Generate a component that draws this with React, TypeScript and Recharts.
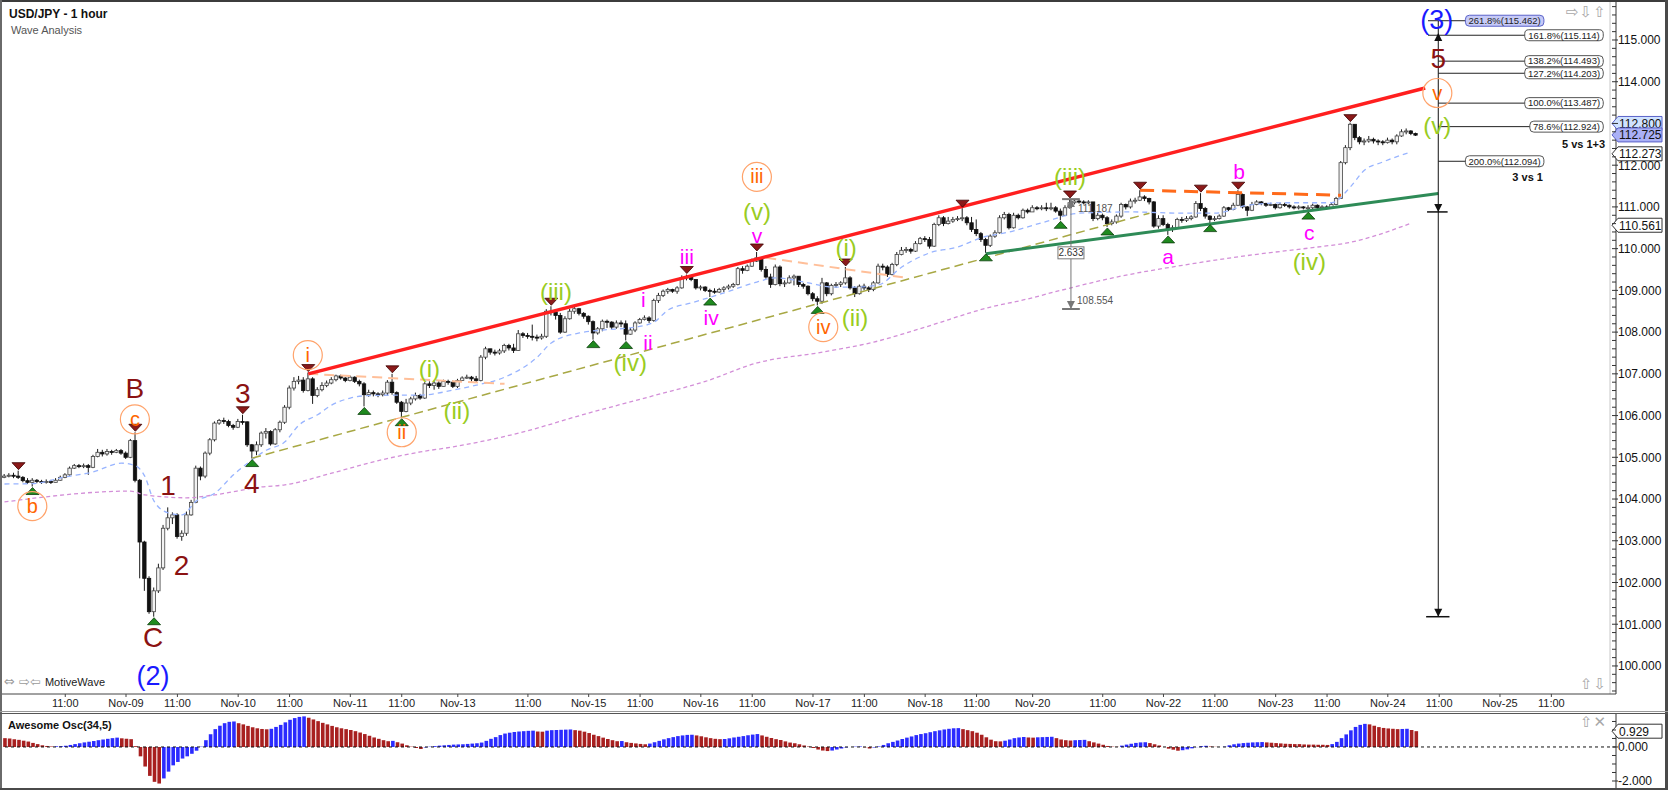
import React from "react";
import { ComposedChart, Bar, Line, XAxis, YAxis, ReferenceLine, ReferenceDot, Cell } from "recharts";

const FONT = "'Liberation Sans', Arial, sans-serif";

// hourly USD/JPY bars, open = previous close
const firstOpen = 104.52;
const closes = [
  104.55, 104.57, 104.55, 104.52, 104.44, 104.4, 104.45, 104.42, 104.4, 104.42,
  104.4, 104.45, 104.52, 104.58, 104.74, 104.8, 104.78, 104.8, 104.76, 105.02,
  105.12, 105.08, 105.14, 105.12, 105.16, 105.1, 105.0, 105.4, 104.45, 102.97,
  102.1, 101.3, 101.8, 102.35, 103.3, 103.55, 103.62, 103.1, 103.18, 103.62,
  103.92, 104.74, 104.55, 105.1, 105.42, 105.82, 105.88, 105.86, 105.76, 105.72,
  105.86, 105.85, 105.3, 105.15, 105.3, 105.58, 105.62, 105.32, 105.66, 105.84,
  106.2, 106.66, 106.82, 106.85, 106.6, 106.88, 106.48, 106.62, 106.72, 106.78,
  106.86, 106.95, 106.9, 106.84, 106.92, 106.82, 106.76, 106.5, 106.55, 106.52,
  106.5, 106.54, 106.8, 106.55, 106.32, 106.1, 106.3, 106.4, 106.48, 106.42,
  106.76, 106.72, 106.78, 106.7, 106.82, 106.8, 106.7, 106.84, 106.9, 106.92,
  106.88, 106.84, 107.4, 107.6, 107.52, 107.5, 107.55, 107.68, 107.62, 107.56,
  107.96, 107.92, 107.9, 107.88, 107.86, 107.9, 108.5, 108.48, 108.4, 108.0,
  108.32, 108.5, 108.56, 108.45, 108.38, 108.25, 107.98, 108.08, 108.26, 108.24,
  108.12, 108.22, 108.2, 107.95, 108.05, 108.22, 108.3, 108.34, 108.28, 108.76,
  108.88, 108.98, 109.02, 108.98, 109.06, 109.3, 109.32, 109.26, 109.06, 109.08,
  109.0, 108.98, 108.96, 109.02, 109.06, 109.1, 109.14, 109.52, 109.48, 109.58,
  109.7, 109.78, 109.5, 109.32, 109.14, 109.56, 109.16, 109.18, 109.3, 109.34,
  109.14, 109.1, 108.92, 108.8, 108.74, 109.18, 108.92, 109.12, 109.14, 109.18,
  109.3, 109.06, 108.92, 109.1, 109.06, 109.02, 109.18, 109.58, 109.56, 109.38,
  109.62, 109.86, 109.96, 109.98, 109.94, 110.12, 110.24, 110.22, 110.06, 110.58,
  110.74, 110.6, 110.66, 110.7, 110.72, 110.74, 110.62, 110.46, 110.36, 110.22,
  110.08, 110.3, 110.38, 110.74, 110.82, 110.5, 110.8, 110.74, 110.92, 110.88,
  110.98, 110.96, 110.98, 110.96, 110.98, 110.9, 110.8, 110.98, 111.1, 111.14,
  111.12, 111.1, 111.12, 110.72, 110.8, 110.74, 110.6, 110.64, 110.78, 111.06,
  111.0, 111.14, 111.16, 111.24, 111.2, 111.12, 110.54, 110.72, 110.58, 110.46,
  110.5, 110.7, 110.68, 110.72, 110.76, 111.08, 110.96, 110.78, 110.7, 110.72,
  110.78, 110.98, 110.94, 111.04, 111.3, 111.0, 110.92, 111.06, 111.12, 111.08,
  111.04, 111.06, 110.98, 111.06, 111.04, 111.0, 110.98, 111.0, 110.98, 110.98,
  111.04, 110.98, 111.0, 110.98, 111.06, 111.2, 112.06, 112.42, 112.98, 112.66,
  112.56, 112.58, 112.62, 112.58, 112.56, 112.54, 112.6, 112.56, 112.7, 112.8,
  112.82, 112.76, 112.72,
];
const highs = [
  104.6, 104.62, 104.63, 104.68, 104.55, 104.5, 104.5, 104.48, 104.46, 104.47,
  104.46, 104.5, 104.56, 104.62, 104.78, 104.84, 104.84, 104.85, 104.84, 105.06,
  105.2, 105.18, 105.2, 105.18, 105.2, 105.2, 105.14, 105.44, 105.6, 104.48,
  103.0, 102.15, 101.88, 102.45, 103.38, 103.8, 103.68, 103.66, 103.25, 103.7,
  103.98, 104.8, 104.78, 105.14, 105.46, 105.86, 105.92, 105.95, 105.9, 105.8,
  105.92, 106.02, 105.86, 105.32, 105.38, 105.62, 105.7, 105.65, 105.7, 105.88,
  106.25, 106.72, 106.92, 106.95, 106.92, 107.03, 106.92, 106.68, 106.8, 106.84,
  106.92, 106.98, 106.98, 106.92, 106.96, 106.94, 106.86, 106.8, 106.62, 106.6,
  106.56, 106.6, 106.85, 107.0, 106.58, 106.35, 106.4, 106.45, 106.55, 106.52,
  106.8, 106.82, 106.84, 106.82, 106.86, 106.86, 106.84, 106.88, 106.94, 106.98,
  106.95, 106.95, 107.45, 107.65, 107.6, 107.58, 107.6, 107.72, 107.72, 107.72,
  108.05, 108.0, 107.98, 108.18, 107.94, 107.96, 108.55, 108.62, 108.55, 108.46,
  108.38, 108.56, 108.62, 108.58, 108.48, 108.4, 108.28, 108.12, 108.3, 108.3,
  108.26, 108.28, 108.28, 108.28, 108.1, 108.26, 108.34, 108.4, 108.38, 108.8,
  108.94, 109.02, 109.06, 109.04, 109.1, 109.36, 109.38, 109.34, 109.22, 109.12,
  109.1, 109.04, 109.05, 109.06, 109.1, 109.14, 109.18, 109.56, 109.58, 109.62,
  109.76, 109.92, 109.8, 109.58, 109.4, 109.62, 109.6, 109.24, 109.36, 109.38,
  109.34, 109.18, 109.12, 108.96, 108.86, 109.3, 109.2, 109.16, 109.2, 109.22,
  109.56, 109.34, 109.1, 109.14, 109.16, 109.1, 109.22, 109.64, 109.64, 109.6,
  109.66, 109.92, 110.04, 110.04, 110.02, 110.18, 110.28, 110.3, 110.28, 110.62,
  110.8, 110.78, 110.76, 110.76, 110.78, 110.97, 110.78, 110.76, 110.7, 110.4,
  110.26, 110.34, 110.44, 110.8, 110.88, 110.86, 110.86, 110.84, 110.96, 110.96,
  111.04, 111.02, 111.04, 111.1, 111.1, 111.02, 110.96, 111.04, 111.19, 111.18,
  111.18, 111.16, 111.16, 110.9, 110.86, 110.84, 110.78, 110.7, 110.82, 111.1,
  111.08, 111.2, 111.22, 111.4, 111.28, 111.22, 111.14, 110.8, 110.8, 110.62,
  110.56, 110.74, 110.76, 110.78, 110.8, 111.14, 111.33, 111.0, 110.8, 110.78,
  110.82, 111.02, 111.0, 111.1, 111.4, 111.32, 111.02, 111.12, 111.16, 111.14,
  111.1, 111.1, 111.08, 111.1, 111.1, 111.06, 111.04, 111.04, 111.02, 111.04,
  111.08, 111.06, 111.04, 111.04, 111.1, 111.24, 112.1, 112.48, 113.02, 112.98,
  112.7, 112.64, 112.7, 112.66, 112.62, 112.6, 112.66, 112.64, 112.74, 112.86,
  112.88, 112.84, 112.78,
];
const lows = [
  104.5, 104.52, 104.5, 104.48, 104.4, 104.36, 104.3, 104.38, 104.36, 104.37,
  104.36, 104.4, 104.44, 104.5, 104.56, 104.72, 104.74, 104.74, 104.58, 104.74,
  105.0, 105.02, 105.04, 105.06, 105.1, 105.06, 104.96, 104.98, 104.4, 102.1,
  101.8, 101.25, 101.18, 101.75, 102.3, 103.25, 103.4, 103.05, 103.0, 103.12,
  103.6, 103.9, 104.45, 104.5, 105.05, 105.38, 105.78, 105.8, 105.72, 105.66,
  105.7, 105.78, 105.25, 104.97, 105.05, 105.25, 105.45, 105.28, 105.3, 105.6,
  105.8, 106.15, 106.6, 106.75, 106.55, 106.58, 106.28, 106.44, 106.58, 106.68,
  106.75, 106.82, 106.86, 106.8, 106.82, 106.78, 106.7, 106.22, 106.45, 106.46,
  106.44, 106.46, 106.48, 106.5, 106.28, 105.95, 106.08, 106.25, 106.36, 106.38,
  106.4, 106.66, 106.62, 106.64, 106.7, 106.74, 106.66, 106.66, 106.84, 106.88,
  106.82, 106.8, 106.82, 107.35, 107.46, 107.44, 107.46, 107.5, 107.56, 107.5,
  107.55, 107.86, 107.84, 107.8, 107.78, 107.82, 107.86, 108.4, 108.3, 107.96,
  107.98, 108.3, 108.44, 108.4, 108.32, 108.18, 107.82, 107.94, 108.02, 108.1,
  108.06, 108.08, 108.12, 107.8, 107.94, 108.0, 108.2, 108.28, 108.22, 108.25,
  108.7, 108.84, 108.92, 108.94, 108.92, 109.04, 109.24, 109.22, 109.02, 109.0,
  108.96, 108.84, 108.92, 108.94, 108.96, 109.02, 109.06, 109.12, 109.4, 109.46,
  109.56, 109.68, 109.45, 109.28, 109.06, 109.12, 109.1, 109.08, 109.16, 109.12,
  109.08, 109.04, 108.88, 108.74, 108.64, 108.68, 108.86, 108.88, 109.06, 109.08,
  109.14, 109.02, 108.84, 108.9, 109.0, 108.96, 108.98, 109.16, 109.48, 109.32,
  109.36, 109.58, 109.84, 109.9, 109.88, 109.92, 110.1, 110.16, 110.0, 110.04,
  110.54, 110.54, 110.58, 110.62, 110.66, 110.66, 110.56, 110.4, 110.3, 110.16,
  109.9, 110.04, 110.26, 110.36, 110.7, 110.46, 110.48, 110.7, 110.72, 110.84,
  110.9, 110.92, 110.92, 110.9, 110.92, 110.86, 110.68, 110.78, 110.96, 111.06,
  111.08, 111.06, 111.06, 110.66, 110.68, 110.68, 110.52, 110.56, 110.6, 110.74,
  110.94, 110.96, 111.08, 111.14, 111.14, 111.06, 110.5, 110.48, 110.54, 110.33,
  110.4, 110.48, 110.62, 110.64, 110.68, 110.74, 110.9, 110.72, 110.6, 110.66,
  110.7, 110.76, 110.9, 110.92, 111.02, 110.96, 110.78, 110.9, 111.04, 111.04,
  111.0, 111.02, 110.94, 110.96, 111.0, 110.96, 110.94, 110.94, 110.94, 110.9,
  110.94, 110.94, 110.94, 110.94, 110.96, 111.04, 111.2, 112.02, 112.36, 112.6,
  112.5, 112.48, 112.54, 112.52, 112.48, 112.48, 112.52, 112.5, 112.5, 112.68,
  112.74, 112.72, 112.7,
];

// Awesome Oscillator (34,5)
const aoValues = [
  0.52, 0.5, 0.46, 0.42, 0.37, 0.32, 0.24, 0.17, 0.1, 0.06,
  0.03, 0.04, 0.05, 0.07, 0.12, 0.17, 0.22, 0.27, 0.31, 0.35,
  0.4, 0.44, 0.48, 0.52, 0.55, 0.51, 0.49, 0.46, 0.05, -0.55,
  -1.15, -1.7, -2.05, -2.15, -1.85, -1.45, -1.08, -0.88, -0.68, -0.55,
  -0.4, -0.22, 0.02, 0.4, 0.75, 1.05, 1.25, 1.4, 1.48, 1.5,
  1.4, 1.33, 1.24, 1.16, 1.1, 1.06, 1.04, 1.07, 1.18, 1.3,
  1.45, 1.6, 1.7, 1.77, 1.8, 1.72, 1.62, 1.52, 1.42, 1.33,
  1.24, 1.16, 1.1, 1.05, 1.0, 0.93, 0.85, 0.76, 0.66, 0.56,
  0.48, 0.4, 0.34, 0.36, 0.28, 0.2, 0.1, 0.02, -0.06, -0.12,
  -0.03, 0.02, 0.05, 0.08, 0.1, 0.12, 0.14, 0.15, 0.16, 0.18,
  0.2, 0.22, 0.26, 0.36, 0.48, 0.58, 0.7, 0.79, 0.84, 0.88,
  0.91, 0.93, 0.95, 0.96, 0.91, 0.9, 0.96, 0.99, 1.0, 1.01,
  1.02, 1.03, 0.99, 0.96, 0.9, 0.82, 0.72, 0.64, 0.55, 0.47,
  0.4, 0.34, 0.35, 0.28, 0.24, 0.21, 0.18, 0.16, 0.2, 0.28,
  0.36, 0.45, 0.52, 0.58, 0.64, 0.68, 0.71, 0.72, 0.68, 0.63,
  0.57, 0.52, 0.48, 0.46, 0.47, 0.51, 0.56, 0.6, 0.64, 0.69,
  0.73, 0.76, 0.68, 0.6, 0.53, 0.46, 0.41, 0.33, 0.26, 0.22,
  0.16, 0.09, 0.03, -0.06, -0.15, -0.21, -0.24, -0.21, -0.15, -0.09,
  -0.03, 0.0, 0.02, 0.03, -0.02, -0.09, -0.03, 0.03, 0.12, 0.22,
  0.3, 0.38, 0.47, 0.55, 0.62, 0.7, 0.76, 0.81, 0.87, 0.93,
  0.98, 1.03, 1.07, 1.1, 1.11, 1.05, 0.99, 0.93, 0.84, 0.72,
  0.57, 0.43, 0.34, 0.33, 0.37, 0.44, 0.52, 0.56, 0.58, 0.56,
  0.55, 0.57, 0.58, 0.59, 0.6, 0.52, 0.44, 0.4, 0.38, 0.4,
  0.41, 0.42, 0.34, 0.27, 0.2, 0.13, 0.06, 0.02, 0.01, 0.08,
  0.14, 0.19, 0.24, 0.27, 0.28, 0.23, 0.16, 0.09, 0.0, -0.1,
  -0.16, -0.22, -0.19, -0.14, -0.08, -0.01, 0.05, 0.07, 0.03, 0.01,
  0.0, 0.02, 0.1, 0.16, 0.2, 0.23, 0.25, 0.27, 0.28, 0.29,
  0.27, 0.25, 0.23, 0.21, 0.19, 0.18, 0.17, 0.17, 0.15, 0.14,
  0.14, 0.13, 0.13, 0.12, 0.17, 0.3, 0.52, 0.74, 0.98, 1.18,
  1.3, 1.36, 1.33, 1.25, 1.17, 1.12, 1.09, 1.07, 1.05, 1.06,
  1.07, 1.0, 0.93,
];

// moving averages read at sample bars: [bar, value]
const fastMa: [number, number][] = [
  [0, 104.36], [6, 104.37], [13, 104.53], [19, 104.65], [25, 104.86], [28, 104.8], [30, 104.55],
  [32, 103.95], [35, 103.67], [38, 103.62], [41, 103.95], [45, 104.14], [49, 104.58], [53, 104.94],
  [56, 105.17], [60, 105.37], [63, 105.77], [67, 106.02], [70, 106.25], [74, 106.42], [78, 106.48],
  [85, 106.49], [89, 106.49], [96, 106.61], [101, 106.73], [107, 106.92], [114, 107.4], [117, 107.74],
  [123, 107.98], [128, 108.05], [135, 108.12], [139, 108.24], [142, 108.53], [147, 108.7], [154, 108.94],
  [161, 109.2], [165, 109.3], [172, 109.18], [177, 109.08], [182, 109.08], [187, 109.13], [192, 109.56],
  [198, 109.9], [204, 110.04], [209, 110.26], [215, 110.4], [222, 110.62], [230, 110.85], [241, 110.88],
  [252, 110.85], [259, 110.85], [266, 111.04], [274, 111.1], [284, 111.1], [288, 111.48], [291, 111.88],
  [295, 112.08], [301, 112.32],
];
const slowMa: [number, number][] = [
  [0, 103.93], [27, 104.19], [30, 104.1], [39, 104.03], [45, 104.1], [55, 104.29], [60, 104.34],
  [70, 104.62], [80, 104.92], [89, 105.13], [96, 105.25], [110, 105.58], [125, 106.06], [139, 106.48],
  [150, 106.82], [161, 107.26], [175, 107.52], [186, 107.76], [197, 108.12], [211, 108.6], [218, 108.77],
  [226, 109.0], [238, 109.32], [252, 109.6], [267, 109.85], [281, 110.04], [287, 110.13], [301, 110.61],
];

const timeTicks = [13, 26, 37, 50, 61, 74, 85, 97, 112, 125, 136, 149, 160, 173, 184, 197, 208, 220, 235, 248, 259, 272, 283, 296, 307, 320, 331];
const timeLabels = ["11:00", "Nov-09", "11:00", "Nov-10", "11:00", "Nov-11", "11:00", "Nov-13", "11:00", "Nov-15", "11:00", "Nov-16", "11:00", "Nov-17", "11:00", "Nov-18", "11:00", "Nov-20", "11:00", "Nov-22", "11:00", "Nov-23", "11:00", "Nov-24", "11:00", "Nov-25", "11:00"];
// 113.000 is covered by the last-price tags
const priceLabels = [100, 101, 102, 103, 104, 105, 106, 107, 108, 109, 110, 111, 112, 114, 115];
const aoLabels = [0, -2];

const swingHighs = [3, 28, 51, 65, 83, 117, 146, 161, 180, 205, 228, 243, 256, 264, 288];
const swingLows = [6, 32, 53, 77, 85, 126, 133, 151, 174, 210, 226, 236, 249, 258, 279];

// wave labels: [text, bar, price]
const primaryWaves: [string, number, number][] = [
  ["B", 27.9, 106.66], ["C", 31.8, 100.7], ["1", 35, 104.34], ["2", 37.9, 102.42],
  ["3", 51, 106.54], ["4", 52.9, 104.38], ["5", 306.8, 114.57],
];
const intermediateWaves: [string, number, number][] = [["(2)", 31.8, 99.78], ["(3)", 306.5, 115.48]];
const minorWaves: [string, number, number][] = [
  ["b", 5.95, 103.83], ["c", 27.9, 105.91], ["i", 64.9, 107.45], ["ii", 85, 105.6],
  ["iii", 161, 111.72], ["iv", 175.2, 108.12], ["v", 306.6, 113.73],
];
const minuteWaves: [string, number, number][] = [
  ["(i)", 90.9, 107.12], ["(ii)", 96.8, 106.13], ["(iii)", 118, 108.96], ["(iv)", 133.9, 107.26],
  ["(v)", 161, 110.88], ["(i)", 180.1, 110.02], ["(ii)", 182, 108.34], ["(iii)", 228, 111.72],
  ["(iv)", 279.2, 109.68], ["(v)", 306.6, 112.94],
];
const minuetteWaves: [string, number, number][] = [
  ["i", 136.7, 108.77], ["ii", 137.7, 107.74], ["iii", 146, 109.8], ["iv", 151.2, 108.34],
  ["v", 161, 110.3], ["a", 249, 109.8], ["b", 264.2, 111.84], ["c", 279.2, 110.38],
];

// trend lines: [x1, y1, x2, y2]
const channelTop = [65, 107.0, 304, 113.85];
const baseLine = [53, 104.98, 245, 110.85];
const ivSupport = [210, 109.88, 306.8, 111.32];
const bResistance = [243, 111.4, 286, 111.28];
const faintLines = [
  [65, 107.0, 107, 106.76],
  [163, 109.78, 193, 109.3],
];

const fibNames = ["261.8%", "161.8%", "138.2%", "127.2%", "100.0%", "78.6%", "200.0%"];
const fibPrices = [115.462, 115.114, 114.493, 114.203, 113.487, 112.924, 112.094];
const fibStart = [304.6, 304.6, 306.8, 306.8, 306.8, 306.8, 306.8];
const fibEnd = [329.4, 342.1, 342.1, 342.1, 342.1, 342.1, 329.4];

// axis tags: [value, shown at price, fill]; the 112.800 tag is pushed up by the 112.725 one
const lastTags: [number, number, string][] = [
  [112.8, 113.0, "#cfe2ff"],
  [112.725, 112.725, "#aab0f6"],
  [112.273, 112.273, "#ffffff"],
  [110.561, 110.561, "#ffffff"],
];
const aoLast = 0.929;

const X_DOMAIN: [number, number] = [-0.535, 344.83];
const PRICE_DOMAIN: [number, number] = [99.328, 115.9585];
const AO_DOMAIN: [number, number] = [-2.53, 1.94];
const PX_PER_BAR = 4.6733;

const fastMap = new Map(fastMa);
const slowMap = new Map(slowMa);
const rows = closes.map((c, i) => {
  const o = i === 0 ? firstOpen : closes[i - 1];
  return {
    i,
    o,
    c,
    h: Math.max(highs[i] ?? c, o, c),
    l: Math.min(lows[i] ?? c, o, c),
    fast: fastMap.has(i) ? fastMap.get(i) : null,
    slow: slowMap.has(i) ? slowMap.get(i) : null,
    ao: aoValues[i] ?? null,
  };
});

const priceTicks = Array.from({ length: 83 }, (_, k) => +(99.4 + k * 0.2).toFixed(1));
const aoTicks = [-2.5, -2, -1.5, -1, -0.5, 0, 0.5, 1, 1.5];

function Candle(props: any) {
  const { x, y, width, height, payload } = props;
  if (!payload || payload.c == null || !Number.isFinite(y)) return <g />;
  const top = Math.min(y, y + height);
  const bottom = Math.max(y, y + height);
  const span = payload.h - payload.l;
  const k = span > 0 ? (bottom - top) / span : 0;
  const yOf = (v: number) => top + (payload.h - v) * k;
  const cx = x + width / 2;
  const yo = yOf(payload.o);
  const yc = yOf(payload.c);
  const up = payload.c >= payload.o;
  return (
    <g>
      <line x1={cx} x2={cx} y1={top} y2={bottom} stroke="#1a1a1a" strokeWidth={1} />
      <rect
        x={cx - 1.7}
        y={Math.min(yo, yc)}
        width={3.4}
        height={Math.max(1, Math.abs(yc - yo))}
        fill={up ? "#f2f2f2" : "#111"}
        stroke={up ? "#444" : "#111"}
        strokeWidth={0.8}
      />
    </g>
  );
}

function PriceTick(props: any) {
  const { x, y, payload } = props;
  const v = payload.value;
  const isInt = Math.abs(v - Math.round(v)) < 1e-6;
  const labelled = isInt && priceLabels.includes(Math.round(v));
  return (
    <g>
      <line x1={x - 4} x2={x + (isInt ? 2 : 0)} y1={y} y2={y} stroke="#333" />
      {labelled && (
        <text x={x + 2} y={y} dy="0.36em" fontSize={12} fill="#111" fontFamily={FONT}>
          {v.toFixed(3)}
        </text>
      )}
    </g>
  );
}

function AoTick(props: any) {
  const { x, y, payload } = props;
  const v = payload.value;
  const major = aoLabels.includes(v);
  return (
    <g>
      <line x1={x - 4} x2={x + (major ? 2 : 0)} y1={y} y2={y} stroke="#333" />
      {major && (
        <text x={x + 2} y={y} dy="0.36em" fontSize={12} fill="#111" fontFamily={FONT}>
          {v.toFixed(3)}
        </text>
      )}
    </g>
  );
}

const triangle = (down: boolean, fill: string, stroke: string) => (p: any) => {
  const { cx, cy } = p;
  const pts = down
    ? `${cx - 6.5},${cy - 8} ${cx + 6.5},${cy - 8} ${cx},${cy - 1}`
    : `${cx - 6.5},${cy + 8} ${cx + 6.5},${cy + 8} ${cx},${cy + 1}`;
  return <polygon points={pts} fill={fill} stroke={stroke} strokeWidth={0.8} />;
};

const arrowHead = (down: boolean, color: string) => (p: any) => {
  const { cx, cy } = p;
  const pts = down ? `${cx - 4},${cy - 8} ${cx + 4},${cy - 8} ${cx},${cy}` : `${cx - 4},${cy + 8} ${cx + 4},${cy + 8} ${cx},${cy}`;
  return <polygon points={pts} fill={color} />;
};

const waveText = (text: string, color: string, size: number, ring = false) => (p: any) => (
  <g>
    {ring && <circle cx={p.cx} cy={p.cy} r={14.5} fill="none" stroke="#ffa36b" strokeWidth={1.2} />}
    <text x={p.cx} y={p.cy} dy={ring ? "0.33em" : "0.35em"} textAnchor="middle" fontSize={size} fontFamily={FONT} fill={color}>
      {text}
    </text>
  </g>
);

const plainText = (text: string, size: number, color: string, anchor: "start" | "end" | "middle", bold = false) => (p: any) => (
  <text x={p.cx} y={p.cy} dy="0.35em" textAnchor={anchor} fontSize={size} fontWeight={bold ? 700 : 400} fontFamily={FONT} fill={color}>
    {text}
  </text>
);

const fibBox = (text: string, highlight: boolean) => (p: any) => {
  const w = text.length * 5.1 + 2;
  return (
    <g>
      <rect x={p.cx - w} y={p.cy - 5.5} width={w} height={11} rx={4} fill={highlight ? "#c6caf7" : "#fff"} stroke={highlight ? "#5a62c8" : "#555"} strokeWidth={1} />
      <text x={p.cx - w / 2} y={p.cy} dy="0.35em" textAnchor="middle" fontSize={9.5} fontFamily={FONT} fill="#222">
        {text}
      </text>
    </g>
  );
};

const priceTag = (value: number, fill: string) => (p: any) => {
  const { cx, cy } = p;
  return (
    <g>
      <polygon
        points={`${cx - 4},${cy} ${cx + 2},${cy - 7} ${cx + 46},${cy - 7} ${cx + 46},${cy + 7} ${cx + 2},${cy + 7}`}
        fill={fill}
        stroke={fill === "#ffffff" ? "#333" : "#5a62c8"}
        strokeWidth={1}
      />
      <text x={cx + 3} y={cy} dy="0.36em" fontSize={12} fontFamily={FONT} fill="#111">
        {value.toFixed(3)}
      </text>
    </g>
  );
};

const smallBox = (text: string) => (p: any) => (
  <g>
    <rect x={p.cx - 13} y={p.cy - 6} width={26} height={12} fill="#fff" stroke="#777" />
    <text x={p.cx} y={p.cy} dy="0.35em" textAnchor="middle" fontSize={10} fontFamily={FONT} fill="#333">
      {text}
    </text>
  </g>
);

const seg = (l: number[]) => [{ x: l[0], y: l[1] }, { x: l[2], y: l[3] }];

const iconStyle: React.CSSProperties = { position: "absolute", fontSize: 15, color: "#a8a8a8", fontFamily: "'DejaVu Sans'", letterSpacing: 1, lineHeight: "16px" };

export default function App() {
  return (
    <div style={{ position: "absolute", left: 0, top: 0, width: 1668, height: 790, background: "#fff", overflow: "hidden", fontFamily: FONT }}>
      <div style={{ position: "absolute", left: 0, top: 0 }}>
        <ComposedChart width={1668} height={712} data={rows} margin={{ top: 0, right: 0, bottom: 0, left: 2 }}>
          <XAxis
            dataKey="i"
            type="number"
            domain={X_DOMAIN}
            allowDataOverflow
            ticks={timeTicks}
            interval={0}
            tickFormatter={(v: number) => timeLabels[timeTicks.indexOf(v)] ?? ""}
            height={18}
            tickSize={3}
            tickMargin={2}
            axisLine={{ stroke: "#444" }}
            tickLine={{ stroke: "#444" }}
            tick={{ fontSize: 11, fill: "#222", fontFamily: FONT }}
          />
          <YAxis
            orientation="right"
            width={52}
            type="number"
            domain={PRICE_DOMAIN}
            allowDataOverflow
            ticks={priceTicks}
            interval={0}
            tickSize={0}
            tickMargin={0}
            tickLine={false}
            axisLine={{ stroke: "#333" }}
            tick={PriceTick}
          />
          <ReferenceLine x={343.55} stroke="#c8c8c8" ifOverflow="visible" />
          <Line dataKey="slow" type="monotone" connectNulls dot={false} stroke="#d38fd8" strokeWidth={1.3} strokeDasharray="4 3" isAnimationActive={false} />
          <Line dataKey="fast" type="monotone" connectNulls dot={false} stroke="#98b4ff" strokeWidth={1.3} strokeDasharray="5 4" isAnimationActive={false} />
          <ReferenceLine segment={seg(baseLine)} stroke="#a8a844" strokeWidth={1.5} strokeDasharray="9 5" ifOverflow="visible" />
          {faintLines.map((l, k) => (
            <ReferenceLine key={"f" + k} segment={seg(l)} stroke="#ffbf99" strokeWidth={2} strokeDasharray="10 6" ifOverflow="visible" />
          ))}
          <Bar dataKey={(r: any) => [r.l, r.h]} shape={Candle} barSize={4} isAnimationActive={false} />
          <ReferenceLine segment={seg(channelTop)} stroke="#ff1f1f" strokeWidth={3.5} ifOverflow="visible" />
          <ReferenceLine segment={seg(ivSupport)} stroke="#2e8b57" strokeWidth={3} ifOverflow="visible" />
          <ReferenceLine segment={seg(bResistance)} stroke="#ff6a1a" strokeWidth={3} strokeDasharray="14 8" ifOverflow="visible" />

          {/* measuring tool on minor (iii) */}
          <ReferenceLine segment={[{ x: 228.2, y: 111.187 }, { x: 228.2, y: 108.554 }]} stroke="#777" ifOverflow="visible" />
          <ReferenceLine segment={[{ x: 226.3, y: 111.187 }, { x: 230.1, y: 111.187 }]} stroke="#777" strokeWidth={2} ifOverflow="visible" />
          <ReferenceLine segment={[{ x: 226.3, y: 108.554 }, { x: 230.1, y: 108.554 }]} stroke="#777" strokeWidth={2} ifOverflow="visible" />
          <ReferenceDot x={228.2} y={111.187} r={1} ifOverflow="visible" shape={arrowHead(false, "#777")} />
          <ReferenceDot x={228.2} y={108.554} r={1} ifOverflow="visible" shape={arrowHead(true, "#777")} />
          <ReferenceDot x={229.7} y={110.97} r={1} ifOverflow="visible" shape={plainText("111.187", 10, "#555", "start")} />
          <ReferenceDot x={228.2} y={109.9} r={1} ifOverflow="visible" shape={smallBox("2.633")} />
          <ReferenceDot x={229.5} y={108.75} r={1} ifOverflow="visible" shape={plainText("108.554", 10, "#555", "start")} />

          {/* fibonacci projection */}
          <ReferenceLine segment={[{ x: 306.8, y: 115.46 }, { x: 306.8, y: 101.18 }]} stroke="#111" ifOverflow="visible" />
          <ReferenceLine segment={[{ x: 304.4, y: 110.88 }, { x: 308.8, y: 110.88 }]} stroke="#111" strokeWidth={1.5} ifOverflow="visible" />
          <ReferenceLine segment={[{ x: 304.2, y: 101.18 }, { x: 309.2, y: 101.18 }]} stroke="#111" strokeWidth={1.5} ifOverflow="visible" />
          <ReferenceDot x={306.8} y={115.17} r={1} ifOverflow="visible" shape={arrowHead(false, "#111")} />
          <ReferenceDot x={306.8} y={110.88} r={1} ifOverflow="visible" shape={arrowHead(true, "#111")} />
          <ReferenceDot x={306.8} y={101.18} r={1} ifOverflow="visible" shape={arrowHead(true, "#111")} />
          {fibPrices.map((p, k) => (
            <ReferenceLine key={"fl" + k} segment={[{ x: fibStart[k], y: p }, { x: fibEnd[k] - 60 / PX_PER_BAR, y: p }]} stroke="#222" ifOverflow="visible" />
          ))}
          {fibPrices.map((p, k) => (
            <ReferenceDot key={"fb" + k} x={fibEnd[k]} y={p} r={1} ifOverflow="visible" shape={fibBox(`${fibNames[k]}(${p.toFixed(3)})`, k === 0)} />
          ))}
          <ReferenceDot x={342.5} y={112.5} r={1} ifOverflow="visible" shape={plainText("5 vs 1+3", 11, "#111", "end", true)} />
          <ReferenceDot x={329.2} y={111.72} r={1} ifOverflow="visible" shape={plainText("3 vs 1", 11, "#111", "end", true)} />

          {swingHighs.map((i) => (
            <ReferenceDot key={"h" + i} x={i} y={rows[i].h} r={1} ifOverflow="visible" shape={triangle(true, "#8b1a1a", "#3d0000")} />
          ))}
          {swingLows.map((i) => (
            <ReferenceDot key={"l" + i} x={i} y={rows[i].l} r={1} ifOverflow="visible" shape={triangle(false, "#1f8a1f", "#0b3d0b")} />
          ))}

          {primaryWaves.map(([t, x, y], k) => (
            <ReferenceDot key={"pw" + k} x={x} y={y} r={1} ifOverflow="visible" shape={waveText(t, "#8b1212", 28)} />
          ))}
          {intermediateWaves.map(([t, x, y], k) => (
            <ReferenceDot key={"iw" + k} x={x} y={y} r={1} ifOverflow="visible" shape={waveText(t, "#1a1aff", 27)} />
          ))}
          {minorWaves.map(([t, x, y], k) => (
            <ReferenceDot key={"mw" + k} x={x} y={y} r={1} ifOverflow="visible" shape={waveText(t, "#ff6600", 20, true)} />
          ))}
          {minuteWaves.map(([t, x, y], k) => (
            <ReferenceDot key={"nw" + k} x={x} y={y} r={1} ifOverflow="visible" shape={waveText(t, "#99cc22", 24)} />
          ))}
          {minuetteWaves.map(([t, x, y], k) => (
            <ReferenceDot key={"ew" + k} x={x} y={y} r={1} ifOverflow="visible" shape={waveText(t, "#ff00ff", 21)} />
          ))}

          {lastTags.map(([v, at, fill], k) => (
            <ReferenceDot key={"t" + k} x={X_DOMAIN[1]} y={at} r={1} ifOverflow="visible" shape={priceTag(v, fill)} />
          ))}
        </ComposedChart>
      </div>

      <div style={{ position: "absolute", left: 0, top: 712 }}>
        <ComposedChart width={1668} height={78} data={rows} margin={{ top: 2, right: 0, bottom: 0, left: 2 }}>
          <XAxis dataKey="i" type="number" domain={X_DOMAIN} allowDataOverflow hide />
          <YAxis
            orientation="right"
            width={52}
            type="number"
            domain={AO_DOMAIN}
            allowDataOverflow
            ticks={aoTicks}
            interval={0}
            tickSize={0}
            tickMargin={0}
            tickLine={false}
            axisLine={{ stroke: "#333" }}
            tick={AoTick}
          />
          <ReferenceLine y={0} stroke="#111" strokeDasharray="3 3" />
          <Bar dataKey="ao" barSize={3.6} isAnimationActive={false}>
            {rows.map((r, i) => (
              <Cell key={i} fill={i > 0 && (r.ao ?? 0) > (rows[i - 1].ao ?? 0) ? "#2b2bff" : "#a82020"} />
            ))}
          </Bar>
          <ReferenceDot x={X_DOMAIN[1]} y={aoLast} r={1} ifOverflow="visible" shape={priceTag(aoLast, "#ffffff")} />
        </ComposedChart>
      </div>

      {/* panel chrome */}
      <div style={{ position: "absolute", left: 0, top: 0, width: 1668, height: 2, background: "#3c3c3c" }} />
      <div style={{ position: "absolute", left: 0, top: 0, width: 2, height: 790, background: "#6a6a6a" }} />
      <div style={{ position: "absolute", left: 1665, top: 0, width: 3, height: 790, background: "#4a4a4a" }} />
      <div style={{ position: "absolute", left: 0, top: 788, width: 1668, height: 2, background: "#4a4a4a" }} />
      <div style={{ position: "absolute", left: 0, top: 711, width: 1668, height: 1, background: "#999" }} />
      <div style={{ position: "absolute", left: 0, top: 713, width: 1668, height: 1, background: "#555" }} />

      <div style={{ position: "absolute", left: 9, top: 7, fontSize: 12, fontWeight: 700, color: "#111" }}>USD/JPY - 1 hour</div>
      <div style={{ position: "absolute", left: 11, top: 24, fontSize: 11, color: "#555" }}>Wave Analysis</div>
      <div style={{ position: "absolute", left: 4, top: 674, fontSize: 11, color: "#222", whiteSpace: "nowrap", lineHeight: "16px" }}>
        <span style={{ color: "#9a9a9a", fontFamily: "'DejaVu Sans'", fontSize: 13 }}>⇔ ⇨⇦ </span>MotiveWave
      </div>
      <div style={{ ...iconStyle, left: 1566, top: 4 }}>⇨⇩⇧</div>
      <div style={{ ...iconStyle, left: 1580, top: 676 }}>⇧⇩</div>
      <div style={{ ...iconStyle, left: 1580, top: 714 }}>⇧✕</div>
      <div style={{ position: "absolute", left: 8, top: 719, fontSize: 11, fontWeight: 700, color: "#111" }}>Awesome Osc(34,5)</div>
    </div>
  );
}
